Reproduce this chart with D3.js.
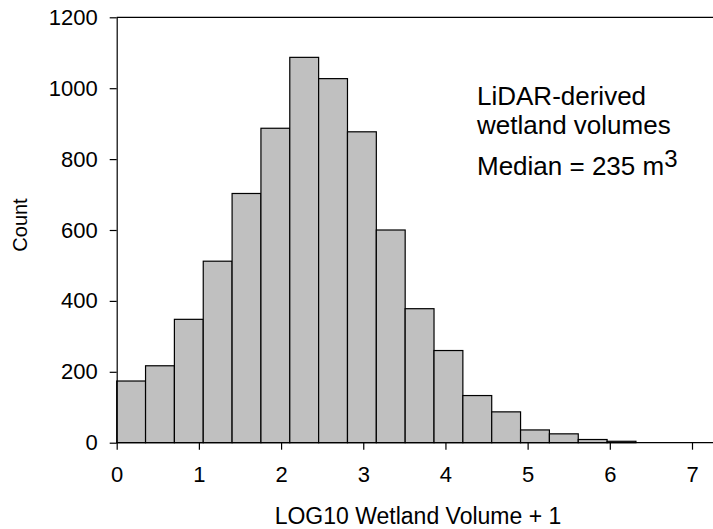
<!DOCTYPE html>
<html>
<head>
<meta charset="utf-8">
<script src="https://cdn.jsdelivr.net/npm/d3@7"></script>
<style>
  html, body { margin: 0; padding: 0; background: #fff; }
  svg { display: block; }
  text { font-family: "Liberation Sans", Arial, sans-serif; fill: #000; }
</style>
</head>
<body>
<svg id="chart" width="713" height="529"></svg>
<script>
// ---- data ----
const binStart = 0;
const binWidth = 0.351;
const counts = [174, 217, 348, 512, 703, 887, 1087, 1027, 877, 600, 378, 260, 133, 87, 36, 25, 9, 4];
const xTicks = [0, 1, 2, 3, 4, 5, 6, 7];
const yTicks = [0, 200, 400, 600, 800, 1000, 1200];
const xTitle = "LOG10 Wetland Volume + 1";
const yTitle = "Count";
const noteLines = ["LiDAR-derived", "wetland volumes"];
const medianText = "Median = 235 m";
const medianSup = "3";

(function () {
const svg = d3.select("#chart");
const W = 713;
const mLeft = 116.7, mBottom = 442.7, mTop = 17.3;
const FONT = "Liberation Sans, Arial, sans-serif";

const x = d3.scaleLinear().domain([0, 7]).range([mLeft, 692]);
const y = d3.scaleLinear().domain([0, 1200]).range([mBottom, mTop]);

const bins = counts.map((c, i) => ({ x0: binStart + i * binWidth, x1: binStart + (i + 1) * binWidth, c }));

// bars
svg.append("g").selectAll("rect").data(bins).join("rect")
  .attr("x", d => x(d.x0))
  .attr("y", d => y(d.c))
  .attr("width", d => x(d.x1) - x(d.x0))
  .attr("height", d => y(0) - y(d.c))
  .attr("fill", "#c0c0c0")
  .attr("stroke", "#000")
  .attr("stroke-width", 1.2);

// frame top line
svg.append("line").attr("x1", mLeft).attr("x2", W).attr("y1", y(1200)).attr("y2", y(1200))
  .attr("stroke", "#000").attr("stroke-width", 1.2);

// x axis
const gx = svg.append("g").attr("transform", `translate(0,${mBottom})`)
  .call(d3.axisBottom(x).tickValues(xTicks).tickFormat(d3.format("d"))
    .tickSize(7).tickPadding(17).tickSizeOuter(0));
gx.select(".domain").attr("d", `M${mLeft},0H${W}`).attr("stroke-width", 1.2);
gx.selectAll(".tick line").attr("stroke-width", 1.2);
gx.selectAll("text").attr("font-size", 22).attr("font-family", FONT);

// y axis
const gy = svg.append("g").attr("transform", `translate(${mLeft},0)`)
  .call(d3.axisLeft(y).tickValues(yTicks).tickFormat(d3.format("d"))
    .tickSize(7).tickPadding(12).tickSizeOuter(0));
gy.select(".domain").attr("stroke-width", 1.2);
gy.selectAll(".tick line").attr("stroke-width", 1.2);
gy.selectAll("text").attr("font-size", 22).attr("font-family", FONT);

// titles
svg.append("text").attr("x", 418).attr("y", 524).attr("text-anchor", "middle")
  .attr("font-size", 23).text(xTitle);
svg.append("text").attr("transform", "translate(27,225) rotate(-90)").attr("text-anchor", "middle")
  .attr("font-size", 20).text(yTitle);

// annotation
const note = svg.append("g");
noteLines.forEach((t, i) => {
  note.append("text").attr("x", 477).attr("y", 105 + i * 29).attr("font-size", 26).text(t);
});
const med = note.append("text").attr("x", 477).attr("y", 175).attr("font-size", 26);
med.append("tspan").text(medianText);
med.append("tspan").attr("dy", -8).attr("font-size", 24).text(medianSup);
})();
</script>
</body>
</html>
